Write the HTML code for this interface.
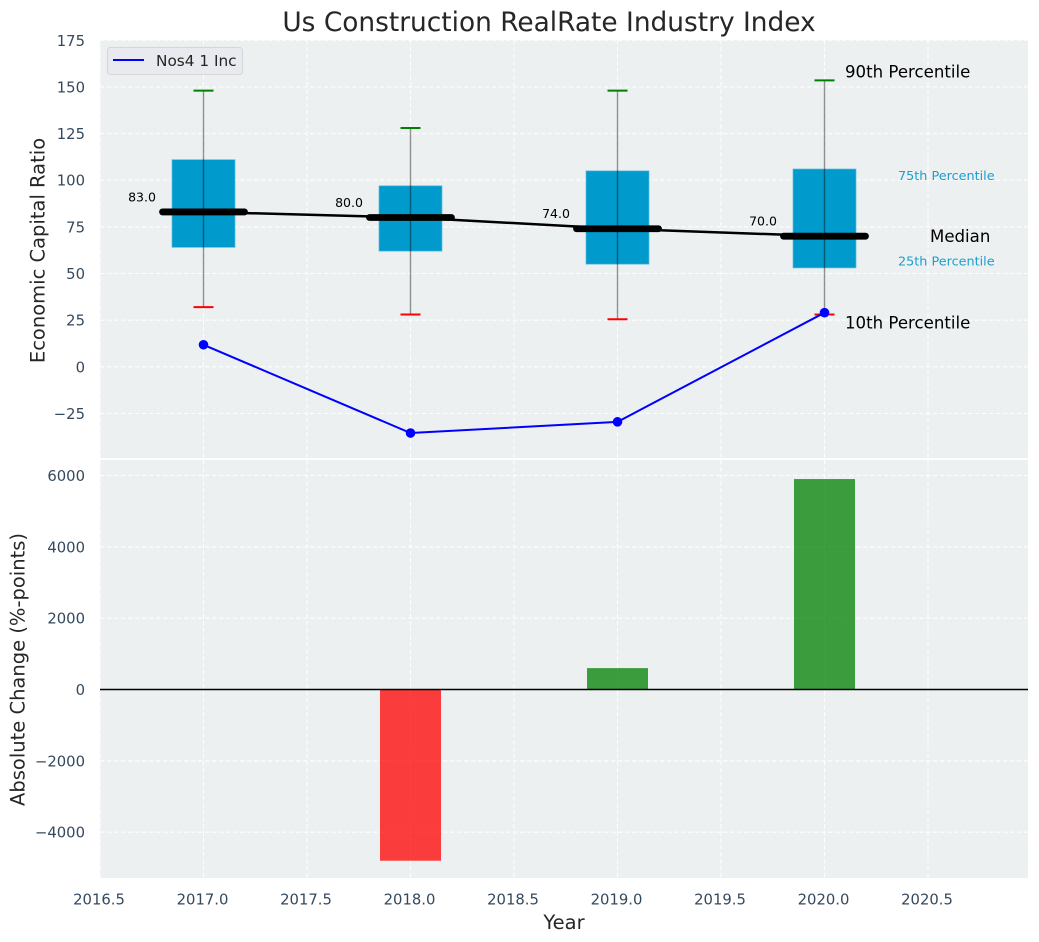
<!DOCTYPE html>
<html>
<head>
<meta charset="utf-8">
<title>Us Construction RealRate Industry Index</title>
<style>
html,body{margin:0;padding:0;background:#fff;width:1039px;height:942px;overflow:hidden}
svg{display:block;font-family:"DejaVu Sans","Liberation Sans",sans-serif}
</style>
</head>
<body>
<svg id="chart" xmlns="http://www.w3.org/2000/svg" width="1039" height="942" viewBox="0 0 1039 942">
<rect x="100" y="40" width="928" height="418" fill="#ecf0f1"/>
<rect x="100" y="460" width="928" height="418" fill="#ecf0f1"/>
<g id="grid"></g>
<g id="bottom"></g>
<g id="top"></g>
<g id="ticks"></g>
<text x="549" y="31" text-anchor="middle" font-size="26.400px" fill="#262626">Us Construction RealRate Industry Index</text>
<text transform="translate(38 250.500) rotate(-90)" text-anchor="middle" dominant-baseline="central" font-size="19.500px" fill="#262626">Economic Capital Ratio</text>
<text transform="translate(18 669.500) rotate(-90)" text-anchor="middle" dominant-baseline="central" font-size="19.500px" fill="#262626">Absolute Change (%-points)</text>
<text x="564" y="929" text-anchor="middle" font-size="19.500px" fill="#262626">Year</text>
<g>
<rect x="107.500" y="47.500" width="135" height="27" rx="3" fill="#e8eaef" stroke="#d4d6da"/>
<line x1="113" x2="144" y1="60" y2="60" stroke="#0000ff" stroke-width="2"/>
<text x="156" y="66" font-size="15.300px" fill="#262626">Nos4 1 Inc</text>
</g>
</svg>
<script>
const years = [2017, 2018, 2019, 2020];
const p10 = [32, 28, 25.5, 28];
const p25 = [64, 62, 55, 53];
const p50 = [83, 80, 74, 70];
const p75 = [111, 97, 105, 106];
const p90 = [148, 128, 148, 153.5];
const companyValues = [11.8, -35.5, -29.5, 29];
const changeYears = [2018, 2019, 2020];
const changeValues = [-4800, 600, 5900];
const xTicks = [2016.5, 2017, 2017.5, 2018, 2018.5, 2019, 2019.5, 2020, 2020.5];
const topTicks = [175, 150, 125, 100, 75, 50, 25, 0, -25];
const bottomTicks = [6000, 4000, 2000, 0, -2000, -4000];

const NS = 'http://www.w3.org/2000/svg';
const gridG = document.getElementById('grid');
const topG = document.getElementById('top');
const bottomG = document.getElementById('bottom');
const ticksG = document.getElementById('ticks');

function x(v) { return 100 + (v - 2016.5) * 207; }
function yTop(v) { return 366.8 - v * 1.866; }
function yBottom(v) { return 689.5 - v * 0.03567; }
function fmt(v) { return String(v).replace('-', '\u2212'); }

function make(parent, tag, attrs, text) {
  const el = document.createElementNS(NS, tag);
  for (const k in attrs) el.setAttribute(k, attrs[k]);
  if (text !== undefined) el.textContent = text;
  parent.appendChild(el);
  return el;
}

const gridStyle = { stroke: '#ffffff', 'stroke-width': 1.1, 'stroke-dasharray': '4.5 2.5', opacity: 0.9 };

xTicks.forEach(function (t) {
  const a = make(gridG, 'line', Object.assign({ x1: x(t), x2: x(t), y1: 40, y2: 458 }, gridStyle));
  
  
  const b = make(gridG, 'line', Object.assign({ x1: x(t), x2: x(t), y1: 460, y2: 878 }, gridStyle));
  
  
  const l = make(ticksG, 'text', { x: x(t) - 1, y: 904.5, 'text-anchor': 'middle', 'font-size': '14.800px', fill: '#34495e' }, t.toFixed(1));
  
  
});
topTicks.forEach(function (t) {
  const a = make(gridG, 'line', Object.assign({ x1: 100, x2: 1028, y1: yTop(t), y2: yTop(t) }, gridStyle));
  
  
  const l = make(ticksG, 'text', { x: 85, y: yTop(t) + 5.5, 'text-anchor': 'end', 'font-size': '14.800px', fill: '#34495e' }, fmt(t));
  
  
});
bottomTicks.forEach(function (t) {
  const a = make(gridG, 'line', Object.assign({ x1: 100, x2: 1028, y1: yBottom(t), y2: yBottom(t) }, gridStyle));
  
  
  const l = make(ticksG, 'text', { x: 85, y: yBottom(t) + 5.5, 'text-anchor': 'end', 'font-size': '14.800px', fill: '#34495e' }, fmt(t));
  
  
});

/* bottom panel bars */
changeYears.forEach(function (yr, i) {
  const v = changeValues[i];
  const top = Math.min(yBottom(v), yBottom(0));
  const h = Math.abs(yBottom(v) - yBottom(0));
  const r = make(bottomG, 'rect', {
    x: x(yr) - 30.5, y: top, width: 61, height: h,
    fill: v < 0 ? '#ff0000' : '#008000', 'fill-opacity': 0.75
  });
  
  
});
const zero = make(bottomG, 'line', { x1: 100, x2: 1028, y1: yBottom(0), y2: yBottom(0), stroke: '#000', 'stroke-width': 1.4 });



/* top panel boxes */
years.forEach(function (yr, i) {
  const cx = x(yr);
  const box = make(topG, 'rect', {
    x: cx - 31.5, y: yTop(p75[i]), width: 63, height: yTop(p25[i]) - yTop(p75[i]),
    fill: '#009acd', stroke: '#5cbcdc', 'stroke-width': 0.7
  });
  
  
  const w = make(topG, 'line', { x1: cx, x2: cx, y1: yTop(p90[i]), y2: yTop(p10[i]), stroke: '#000', 'stroke-opacity': 0.42, 'stroke-width': 1.4 });
  
  
  const hi = make(topG, 'line', { x1: cx - 10, x2: cx + 10, y1: yTop(p90[i]), y2: yTop(p90[i]), stroke: '#008000', 'stroke-width': 2 });
  
  
  const lo = make(topG, 'line', { x1: cx - 10, x2: cx + 10, y1: yTop(p10[i]), y2: yTop(p10[i]), stroke: '#ff0000', 'stroke-width': 2 });
  
  
});

const medianPath = make(topG, 'polyline', {
  points: years.map(function (yr, i) { return x(yr) + ',' + yTop(p50[i]); }).join(' '),
  fill: 'none', stroke: '#000', 'stroke-width': 2.5
});



years.forEach(function (yr, i) {
  const cx = x(yr);
  const m = make(topG, 'line', { x1: cx - 41, x2: cx + 41, y1: yTop(p50[i]), y2: yTop(p50[i]), stroke: '#000', 'stroke-width': 6.8, 'stroke-linecap': 'round' });
  
  
  const t = make(topG, 'text', { x: cx - 61.5, y: yTop(p50[i]) - 10.500, 'text-anchor': 'middle', 'font-size': '12.500px', fill: '#000' }, p50[i].toFixed(1));
  
  
});

const companyLine = make(topG, 'polyline', {
  points: years.map(function (yr, i) { return x(yr) + ',' + yTop(companyValues[i]); }).join(' '),
  fill: 'none', stroke: '#0000ff', 'stroke-width': 2
});


years.forEach(function (yr, i) {
  const c = make(topG, 'circle', { cx: x(yr), cy: yTop(companyValues[i]), r: 4.8, fill: '#0000ff' });
  
  
});

/* percentile annotations on the final year */
const last = years.length - 1;
const ax = x(years[last]);
const a90 = make(topG, 'text', { x: ax + 20.5, y: yTop(p90[last]) - 3, 'font-size': '16.600px', fill: '#000' }, '90th Percentile');


const a10 = make(topG, 'text', { x: ax + 20.5, y: yTop(p10[last]) + 14, 'font-size': '16.600px', fill: '#000' }, '10th Percentile');


const a75 = make(topG, 'text', { x: ax + 73.5, y: yTop(p75[last]) + 11, 'font-size': '12.800px', fill: '#1a9fd0' }, '75th Percentile');


const a25 = make(topG, 'text', { x: ax + 73.5, y: yTop(p25[last]) - 2.500, 'font-size': '12.800px', fill: '#1a9fd0' }, '25th Percentile');


const a50 = make(topG, 'text', { x: ax + 105.5, y: yTop(p50[last]) + 6, 'font-size': '16.600px', fill: '#000' }, 'Median');


</script>
</body>
</html>
